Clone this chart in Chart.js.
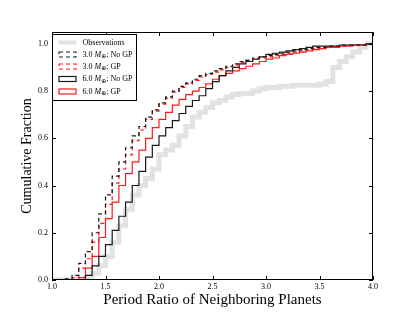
<!DOCTYPE html>
<html>
<head>
<meta charset="utf-8">
<script src="https://cdn.jsdelivr.net/npm/chart.js@4.4.0/dist/chart.umd.min.js"></script>
<style>
  html, body { margin: 0; padding: 0; background: #fff; }
</style>
</head>
<body>
<canvas id="cdf" width="415" height="312"></canvas>
<script>
// bin edges of the cumulative histograms (period ratio)
const binEdges = [1.0, 1.0625, 1.125, 1.1875, 1.25, 1.3125, 1.375, 1.4375, 1.5, 1.5625, 1.625, 1.6875,
  1.75, 1.8125, 1.875, 1.9375, 2.0, 2.0625, 2.125, 2.1875, 2.25, 2.3125, 2.375, 2.4375, 2.5, 2.5625,
  2.625, 2.6875, 2.75, 2.8125, 2.875, 2.9375, 3.0, 3.0625, 3.125, 3.1875, 3.25, 3.3125, 3.375, 3.4375,
  3.5, 3.5625, 3.625, 3.6875, 3.75, 3.8125, 3.875, 3.9375, 4.0];

// cumulative fraction at each edge
const observed = [0, 0, 0, 0, 0, 0.01, 0.03, 0.06, 0.10, 0.16, 0.23, 0.30, 0.36, 0.40, 0.43, 0.47, 0.53,
  0.55, 0.57, 0.61, 0.65, 0.69, 0.71, 0.73, 0.75, 0.76, 0.775, 0.785, 0.79, 0.79, 0.80, 0.81, 0.815, 0.815,
  0.82, 0.82, 0.825, 0.825, 0.825, 0.825, 0.83, 0.84, 0.90, 0.925, 0.945, 0.965, 0.985, 1.0, 1.0];
const noGp3 = [0, 0, 0.005, 0.02, 0.07, 0.12, 0.20, 0.28, 0.36, 0.44, 0.50, 0.56, 0.61, 0.65, 0.69, 0.72,
  0.75, 0.775, 0.80, 0.82, 0.835, 0.85, 0.865, 0.875, 0.885, 0.895, 0.905, 0.915, 0.925, 0.93, 0.94,
  0.945, 0.95, 0.955, 0.96, 0.965, 0.97, 0.975, 0.98, 0.985, 0.985, 0.99, 0.99, 0.995, 0.995, 0.995,
  0.995, 1.0, 1.0];
const gp3 = [0, 0, 0, 0.01, 0.05, 0.09, 0.16, 0.24, 0.32, 0.41, 0.47, 0.53, 0.59, 0.635, 0.68, 0.715,
  0.745, 0.77, 0.795, 0.815, 0.83, 0.845, 0.86, 0.87, 0.88, 0.89, 0.90, 0.91, 0.92, 0.93, 0.935, 0.94,
  0.945, 0.95, 0.955, 0.96, 0.965, 0.97, 0.975, 0.98, 0.985, 0.985, 0.99, 0.99, 0.995, 0.995, 0.995,
  1.0, 1.0];
const noGp6 = [0, 0, 0, 0, 0, 0.02, 0.06, 0.10, 0.15, 0.21, 0.27, 0.33, 0.40, 0.46, 0.52, 0.57, 0.61,
  0.645, 0.675, 0.705, 0.735, 0.76, 0.78, 0.81, 0.84, 0.865, 0.885, 0.90, 0.915, 0.925, 0.935, 0.945,
  0.955, 0.96, 0.965, 0.97, 0.975, 0.98, 0.985, 0.99, 0.99, 0.99, 0.99, 0.995, 0.995, 0.995, 0.995,
  1.0, 1.0];
const gp6 = [0, 0, 0, 0, 0.01, 0.05, 0.10, 0.18, 0.26, 0.33, 0.40, 0.45, 0.50, 0.55, 0.60, 0.645, 0.68,
  0.71, 0.74, 0.765, 0.785, 0.80, 0.815, 0.83, 0.85, 0.865, 0.875, 0.885, 0.895, 0.905, 0.915, 0.925,
  0.935, 0.94, 0.95, 0.955, 0.96, 0.965, 0.97, 0.975, 0.98, 0.985, 0.985, 0.99, 0.99, 0.995, 0.995,
  1.0, 1.0];

const xTicks = [1.0, 1.5, 2.0, 2.5, 3.0, 3.5, 4.0];
const yTicks = [0.0, 0.2, 0.4, 0.6, 0.8, 1.0];

const massLabels = ['3.0', '3.0', '6.0', '6.0'];
const gpLabels = ['No GP', 'GP', 'No GP', 'GP'];

const serif = "'Liberation Serif', 'DejaVu Serif', serif";
const black = '#1a1a1a';
const red = '#ff1a1a';
const grey = '#e2e2e2';

const toPoints = ys => binEdges.map((x, i) => ({ x: x, y: ys[i] }));

// inward ticks on all four sides + frame
const framePlugin = {
  id: 'frame',
  afterDatasetsDraw(chart) {
    const { ctx, chartArea: a, scales: { x, y } } = chart;
    ctx.save();
    ctx.strokeStyle = '#000';
    ctx.lineWidth = 1;
    ctx.beginPath();
    xTicks.forEach(v => {
      const px = Math.round(x.getPixelForValue(v)) + 0.5;
      ctx.moveTo(px, a.bottom); ctx.lineTo(px, a.bottom - 4);
      ctx.moveTo(px, a.top); ctx.lineTo(px, a.top + 4);
    });
    yTicks.forEach(v => {
      const py = Math.round(y.getPixelForValue(v)) + 0.5;
      ctx.moveTo(a.left, py); ctx.lineTo(a.left + 4, py);
      ctx.moveTo(a.right, py); ctx.lineTo(a.right - 4, py);
    });
    ctx.stroke();
    ctx.strokeRect(a.left + 0.5, a.top + 0.5, a.right - a.left - 1, a.bottom - a.top - 1);
    ctx.restore();
  }
};

// legend box in the upper left corner
const legendPlugin = {
  id: 'boxLegend',
  afterDatasetsDraw(chart) {
    const { ctx, chartArea: a } = chart;
    const bx = a.left + 0.5, by = a.top + 2.5, bw = 84, bh = 66;
    ctx.save();
    ctx.fillStyle = '#fff';
    ctx.fillRect(bx, by, bw, bh);
    ctx.strokeStyle = '#000';
    ctx.lineWidth = 1;
    ctx.strokeRect(bx, by, bw, bh);

    const rows = [by + 8, by + 20, by + 32, by + 44.5, by + 57];
    const hx = bx + 6, hw = 18, tx = bx + 30;

    // observations handle
    ctx.strokeStyle = grey;
    ctx.lineWidth = 4;
    ctx.beginPath();
    ctx.moveTo(hx, rows[0]); ctx.lineTo(hx + hw, rows[0]);
    ctx.stroke();

    const styles = chart.data.datasets.slice(0, 4);
    styles.forEach((ds, i) => {
      ctx.strokeStyle = ds.borderColor;
      ctx.lineWidth = 1.2;
      ctx.setLineDash(ds.borderDash || []);
      ctx.strokeRect(hx + 0.5, rows[i + 1] - 2.5, hw - 1, 5);
    });
    ctx.setLineDash([]);

    ctx.fillStyle = '#000';
    ctx.textBaseline = 'middle';
    ctx.font = '8px ' + serif;
    ctx.fillText('Observations', tx, rows[0]);
    massLabels.forEach((m, i) => {
      const yy = rows[i + 1];
      let cx = tx;
      ctx.font = '8px ' + serif;
      ctx.fillText(m + ' ', cx, yy);
      cx += ctx.measureText(m + ' ').width;
      ctx.font = 'italic 8px ' + serif;
      ctx.fillText('M', cx, yy);
      cx += ctx.measureText('M').width;
      ctx.font = "6px 'DejaVu Sans', sans-serif";
      ctx.fillText('\u2295', cx, yy + 2);
      cx += ctx.measureText('\u2295').width;
      ctx.font = '8px ' + serif;
      ctx.fillText('; ' + gpLabels[i], cx, yy);
    });
    ctx.restore();
  }
};

const lineBase = { stepped: true, pointRadius: 0, fill: false, tension: 0 };

new Chart(document.getElementById('cdf'), {
  type: 'line',
  data: {
    datasets: [
      { ...lineBase, label: '3.0 No GP', data: toPoints(noGp3), borderColor: black, borderWidth: 1.2, borderDash: [4, 3], order: 1 },
      { ...lineBase, label: '3.0 GP', data: toPoints(gp3), borderColor: red, borderWidth: 1.2, borderDash: [4, 3], order: 2 },
      { ...lineBase, label: '6.0 No GP', data: toPoints(noGp6), borderColor: black, borderWidth: 1.2, order: 3 },
      { ...lineBase, label: '6.0 GP', data: toPoints(gp6), borderColor: red, borderWidth: 1.2, order: 4 },
      { ...lineBase, label: 'Observations', data: toPoints(observed), borderColor: grey, borderWidth: 5, order: 5 }
    ]
  },
  options: {
    responsive: false,
    animation: false,
    devicePixelRatio: 1,
    layout: { padding: { top: 32, right: 42, left: 0, bottom: 0 } },
    plugins: {
      legend: { display: false },
      tooltip: { enabled: false }
    },
    scales: {
      x: {
        type: 'linear',
        min: 1, max: 4,
        afterBuildTicks: s => { s.ticks = xTicks.map(v => ({ value: v })); },
        afterFit: s => { s.height = 32; },
        grid: { display: false, drawTicks: false },
        border: { display: false },
        ticks: {
          padding: 2,
          color: '#000',
          font: { family: serif, size: 8 },
          maxRotation: 0,
          callback: v => Number(v).toFixed(1)
        },
        title: {
          display: true,
          text: 'Period Ratio of Neighboring Planets',
          color: '#000',
          font: { family: serif, size: 15 },
          padding: { top: 0, bottom: 3 }
        }
      },
      y: {
        type: 'linear',
        min: 0, max: 1.05,
        afterBuildTicks: s => { s.ticks = yTicks.map(v => ({ value: v })); },
        afterFit: s => { s.width = 52; },
        grid: { display: false, drawTicks: false },
        border: { display: false },
        ticks: {
          padding: 4,
          color: '#000',
          font: { family: serif, size: 8 },
          callback: v => Number(v).toFixed(1)
        },
        title: {
          display: true,
          text: 'Cumulative Fraction',
          color: '#000',
          font: { family: serif, size: 14 },
          padding: { top: 19, bottom: 0 }
        }
      }
    }
  },
  plugins: [framePlugin, legendPlugin]
});
</script>
</body>
</html>
